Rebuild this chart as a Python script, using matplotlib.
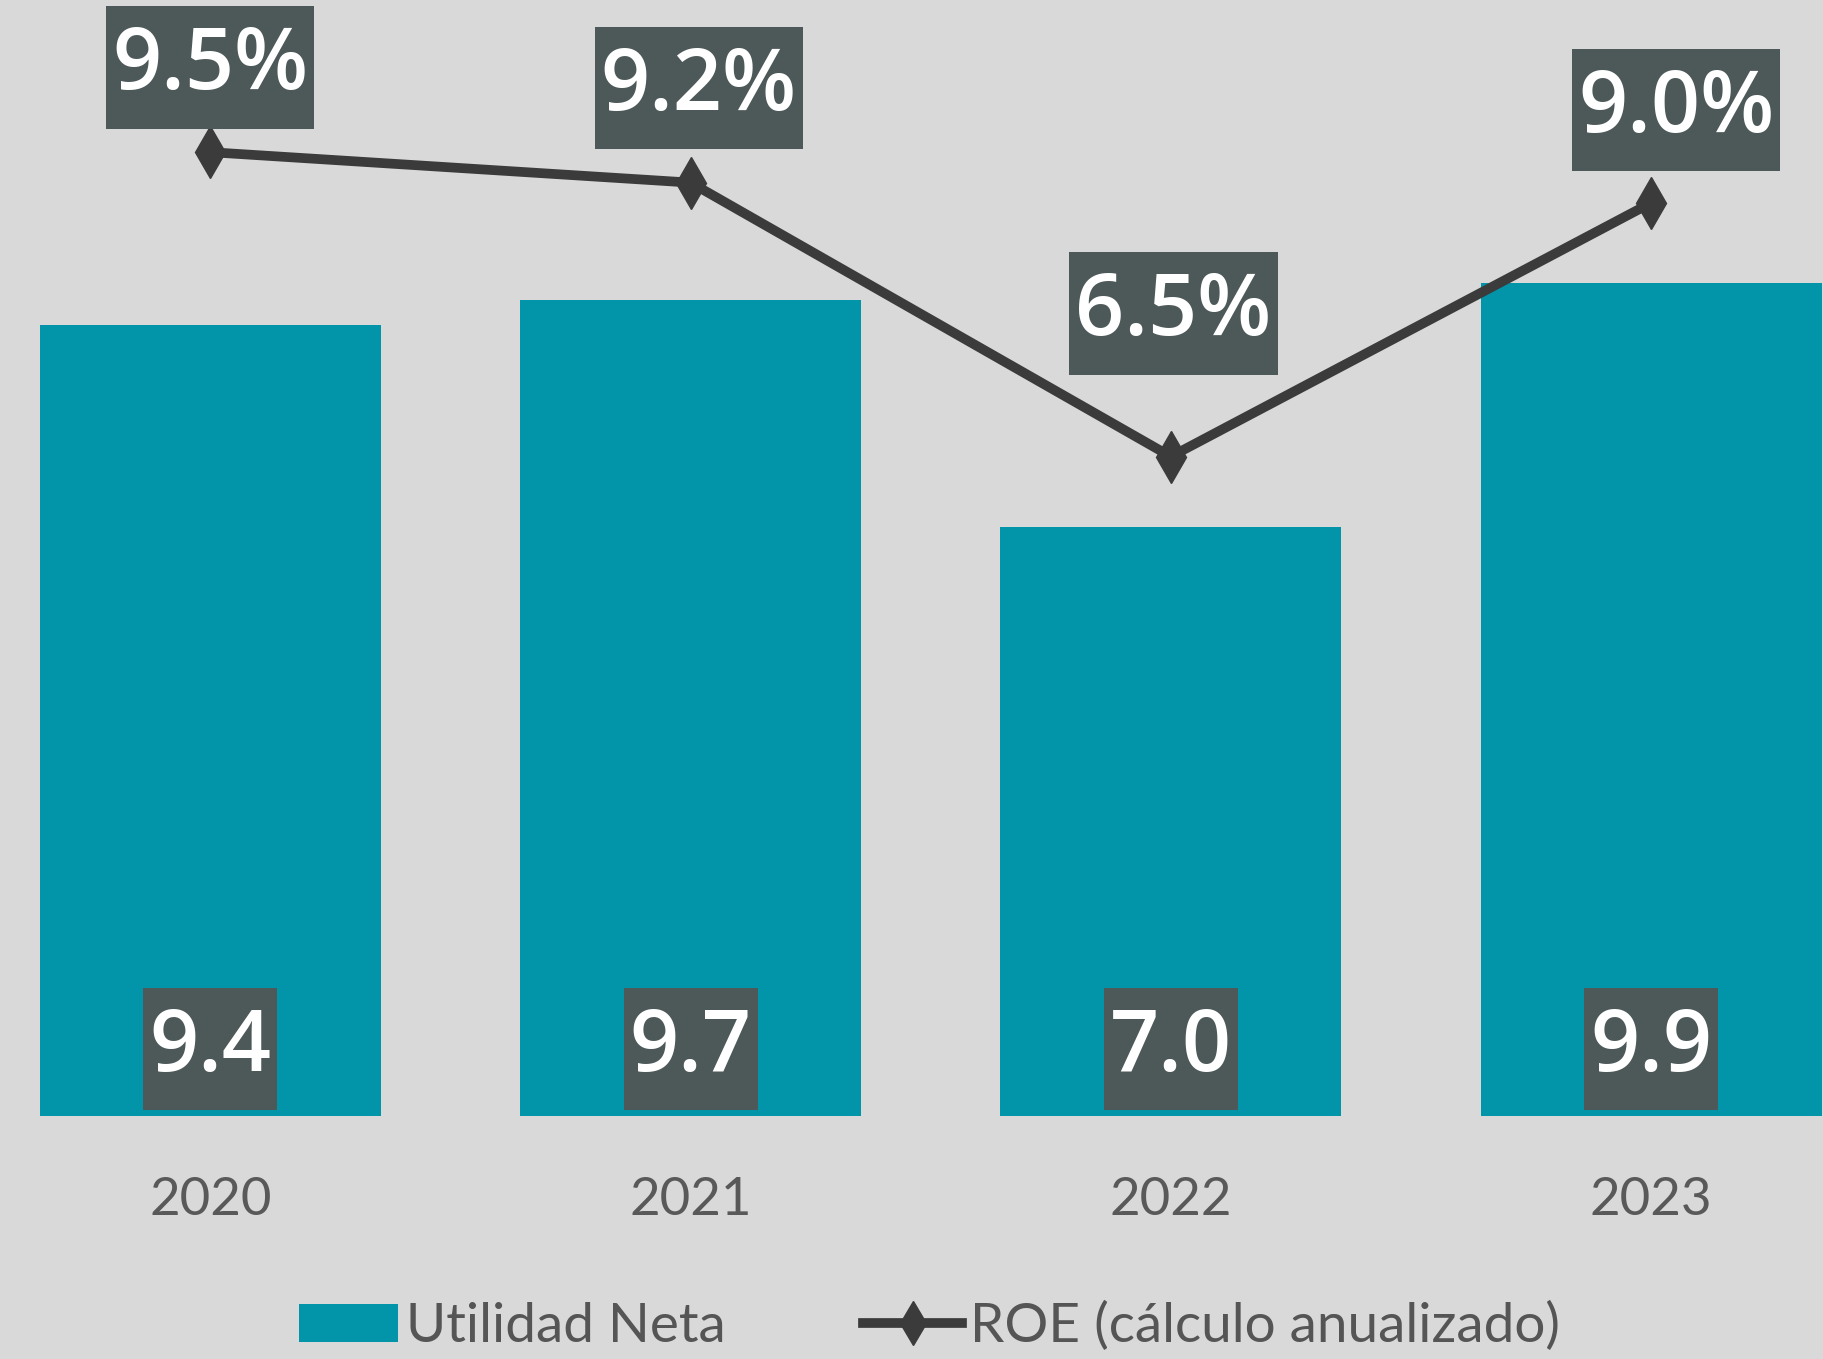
import numpy as np
import matplotlib
matplotlib.use('Agg')
import matplotlib.pyplot as plt
from matplotlib.lines import Line2D
from matplotlib.patches import Patch
from matplotlib.path import Path

years = ['2020', '2021', '2022', '2023']
utilidad = [9.4, 9.7, 7.0, 9.9]
roe = [9.5, 9.2, 6.5, 9.0]
utilidad_labels = ['9.4', '9.7', '7.0', '9.9']
roe_labels = ['9.5%', '9.2%', '6.5%', '9.0%']

# label offsets (points) for ROE boxes
roe_offsets = [(0, 61), (6, 68), (2, 103), (18, 67)]

bg = '#d9d9d9'
bar_color = '#0295aa'
box_color = '#4d5859'
line_color = '#3b3b3b'


def label_box(x0, y0, width, height, mutation_size):
    # narrow side padding, taller top/bottom padding
    px = 0.07 * mutation_size
    py = 0.21 * mutation_size
    verts = [(x0 - px, y0 - py), (x0 + width + px, y0 - py),
             (x0 + width + px, y0 + height + py), (x0 - px, y0 + height + py),
             (x0 - px, y0 - py)]
    codes = [Path.MOVETO, Path.LINETO, Path.LINETO, Path.LINETO, Path.CLOSEPOLY]
    return Path(verts, codes)


fig = plt.figure(figsize=(18.23, 13.59), dpi=100, facecolor=bg)
ax = fig.add_axes([0, 0.1788, 1, 0.8212])
ax.set_facecolor(bg)
x = np.arange(len(years))

ax.bar(x, utilidad, width=0.71, color=bar_color, zorder=2)
ax.set_xlim(-0.438, 3.358)
ax.set_ylim(0, 13.26)

ax2 = ax.twinx()
ax2.plot(x, roe, color=line_color, lw=7, marker='d', markersize=26,
         markerfacecolor=line_color, markeredgecolor=line_color, zorder=3)
ax2.set_ylim(0, 11.0)

for a in (ax, ax2):
    for s in a.spines.values():
        s.set_visible(False)
    a.set_yticks([])

ax.set_xticks(x)
ax.set_xticklabels(years, family=['Lato', 'DejaVu Sans'], fontsize=38,
                   color='#595959')
ax.tick_params(axis='x', length=0, pad=44)

box = dict(boxstyle=label_box, facecolor=box_color, edgecolor='none')
lbl_font = ['Open Sans', 'DejaVu Sans']
for i in range(len(years)):
    ax.annotate(utilidad_labels[i], (x[i], 0), xytext=(0, 48.5),
                textcoords='offset points', ha='center', va='center',
                fontsize=62, fontweight='semibold', color='white',
                family=lbl_font, bbox=box, zorder=4)
    dx, dy = roe_offsets[i]
    ax2.annotate(roe_labels[i], (x[i], roe[i]), xytext=(dx, dy),
                 textcoords='offset points', ha='center', va='center',
                 fontsize=62, fontweight='semibold', color='white',
                 family=lbl_font, bbox=box, zorder=4)

handles = [Patch(facecolor=bar_color, edgecolor='none'),
           Line2D([0], [0], color=line_color, lw=7, marker='d', markersize=22)]
fig.legend(handles, ['Utilidad Neta', 'ROE (cálculo anualizado)'],
           loc='center', bbox_to_anchor=(0.51, 0.024), ncol=2, frameon=False,
           prop={'family': ['Lato', 'DejaVu Sans'], 'size': 39.5},
           labelcolor='#555555', handlelength=1.8, handleheight=0.7,
           handletextpad=0.15, columnspacing=2.5)

fig.savefig('out.png', dpi=100, facecolor=bg)
